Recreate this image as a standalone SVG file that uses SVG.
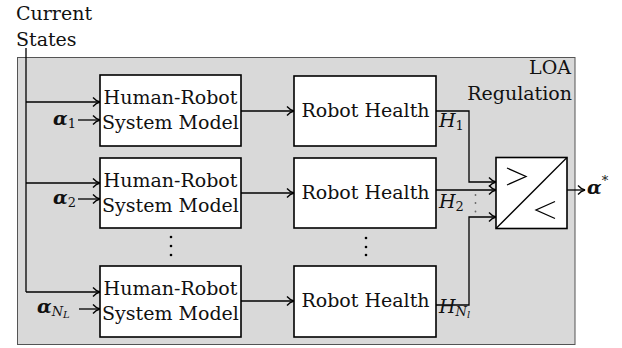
<svg xmlns="http://www.w3.org/2000/svg" width="622" height="348" viewBox="0 0 622 348" font-family="DejaVu Serif, serif">
<defs>
<marker id="arr" markerWidth="12" markerHeight="12" refX="10" refY="6" orient="auto" markerUnits="userSpaceOnUse">
<path d="M3,1.5 Q6,5 10,6 Q6,7 3,10.5" fill="none" stroke="#000" stroke-width="1.3"/>
</marker>
</defs>
<style>
text{fill:#111;font-family:"DejaVu Serif",serif;font-size:19px}
.box{fill:#fff;stroke:#000;stroke-width:1.6}
.ln{fill:none;stroke:#000;stroke-width:1.3}
.ar{fill:none;stroke:#000;stroke-width:1.3;marker-end:url(#arr)}
.ba{font-weight:bold;font-style:italic}
.it{font-style:italic}
.sub{font-size:13px}
.dot{fill:#000}
</style>
<rect id="loa" x="17.5" y="57.5" width="557.5" height="287" fill="#d9d9d9" stroke="#555" stroke-width="1"/>
<text x="16" y="20">Current</text>
<text x="16" y="46">States</text>
<text x="571" y="74" text-anchor="end">LOA</text>
<text x="572" y="100" text-anchor="end">Regulation</text>
<g id="connectors">
<path class="ln" d="M26,48 V292"/>
<path class="ar" d="M26,102 H100"/>
<path class="ar" d="M26,183 H100"/>
<path class="ar" d="M26,292 H100"/>
<path class="ar" d="M78,120 H100"/>
<path class="ar" d="M78,199 H100"/>
<path class="ar" d="M79,309 H100"/>
<path class="ar" d="M241,111 H294"/>
<path class="ar" d="M241,193 H294"/>
<path class="ar" d="M241,301 H294"/>
<path class="ar" d="M436,111 H469 V182 H496"/>
<path class="ar" d="M436,190 H496"/>
<path class="ar" d="M436,305 H469 V217 H496"/>
<path class="ar" d="M567,190 H585"/>
</g>
<g id="hrsm1"><rect class="box" x="100" y="75" width="141" height="71"/>
<text x="170.5" y="104" text-anchor="middle">Human-Robot</text>
<text x="170.5" y="129" text-anchor="middle">System Model</text></g>
<g id="hrsm2"><rect class="box" x="100" y="158" width="141" height="70"/>
<text x="170.5" y="187" text-anchor="middle">Human-Robot</text>
<text x="170.5" y="212" text-anchor="middle">System Model</text></g>
<g id="hrsm3"><rect class="box" x="100" y="266" width="141" height="71"/>
<text x="170.5" y="295" text-anchor="middle">Human-Robot</text>
<text x="170.5" y="320" text-anchor="middle">System Model</text></g>
<g id="rh1"><rect class="box" x="294" y="76" width="142" height="70"/>
<text x="365.5" y="117" text-anchor="middle">Robot Health</text></g>
<g id="rh2"><rect class="box" x="294" y="158" width="142" height="70"/>
<text x="365.5" y="199" text-anchor="middle">Robot Health</text></g>
<g id="rh3"><rect class="box" x="294" y="266" width="142" height="71"/>
<text x="365.5" y="307" text-anchor="middle">Robot Health</text></g>
<g id="cmp"><rect class="box" x="496" y="157.5" width="71" height="71"/>
<path class="ln" d="M496,228.5 L567,157.5"/>
<path class="ln" d="M507,168 L526,176.5 L507,185" stroke-width="1.2"/>
<path class="ln" d="M555,201.5 L536,210 L555,218.5" stroke-width="1.2"/></g>
<g id="dots">
<circle class="dot" cx="171" cy="237" r="1.3"/><circle class="dot" cx="171" cy="246" r="1.3"/><circle class="dot" cx="171" cy="255" r="1.3"/>
<circle class="dot" cx="366" cy="238" r="1.3"/><circle class="dot" cx="366" cy="247" r="1.3"/><circle class="dot" cx="366" cy="255" r="1.3"/>
<circle cx="475.5" cy="195" r="0.9" fill="#666"/><circle cx="475.5" cy="203" r="0.9" fill="#666"/><circle cx="475.5" cy="211.5" r="0.9" fill="#666"/>
</g>
<g id="labels">
<text x="53" y="125"><tspan class="ba">α</tspan><tspan class="sub" dy="3">1</tspan></text>
<text x="53" y="204"><tspan class="ba">α</tspan><tspan class="sub" dy="3">2</tspan></text>
<text x="37" y="313"><tspan class="ba">α</tspan><tspan class="sub" font-style="italic" dy="3">N</tspan><tspan font-size="10" font-style="italic" dy="2">L</tspan></text>
<text x="439" y="127"><tspan class="it">H</tspan><tspan class="sub" dy="3">1</tspan></text>
<text x="439" y="208"><tspan class="it">H</tspan><tspan class="sub" dy="3">2</tspan></text>
<text x="439" y="313"><tspan class="it">H</tspan><tspan class="sub" font-style="italic" dy="3">N</tspan><tspan font-size="10" font-style="italic" dy="2">l</tspan></text>
<text x="587" y="194"><tspan class="ba">α</tspan><tspan font-size="13" dy="-9">*</tspan></text>
</g>
</svg>
